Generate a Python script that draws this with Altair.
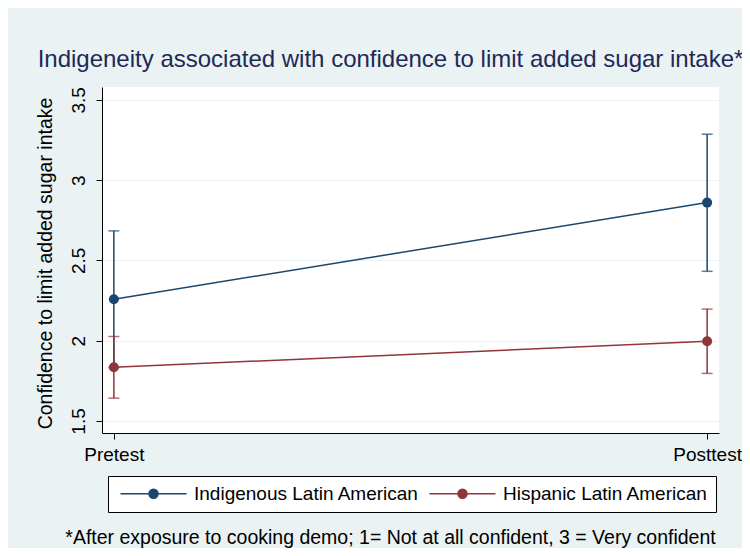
import altair as alt
import pandas as pd

# ---- data ----
series = ["Indigenous Latin American", "Hispanic Latin American"]
colors = ["#1a476f", "#90353b"]
time_labels = ["Pretest", "Posttest"]
groups = ["Indigenous Latin American", "Indigenous Latin American",
          "Hispanic Latin American", "Hispanic Latin American"]
times = [0, 1, 0, 1]
means = [2.258, 2.860, 1.834, 1.996]
lowers = [1.832, 2.432, 1.642, 1.796]
uppers = [2.684, 3.286, 2.026, 2.197]
y_ticks = [1.5, 2, 2.5, 3, 3.5]

title_text = "Indigeneity associated with confidence to limit added sugar intake*"
y_title = "Confidence to limit added sugar intake"
footnote = "*After exposure to cooking demo; 1= Not at all confident, 3 = Very confident"

df = pd.DataFrame({"group": groups, "time": times, "mean": means,
                   "lower": lowers, "upper": uppers})

FONT = "Liberation Sans"
BG = "#eaf2f3"
FS = 19

x_scale = alt.Scale(domain=[-0.02, 1.02], nice=False, zero=False)
y_scale = alt.Scale(domain=[1.425, 3.58], nice=False, zero=False)

# legend symbol: line with a dot (units of 5px for symbolSize=100)
sym_path = ("M-1,0L12.2,0M4.7,0A0.9,0.9 0 1,0 6.5,0A0.9,0.9 0 1,0 4.7,0Z")

color_enc = alt.Color(
    "group:N",
    scale=alt.Scale(domain=series, range=colors),
    legend=alt.Legend(
        orient="none", legendX=6, legendY=389, direction="horizontal",
        title=None, strokeColor="black", fillColor="white", padding=8,
        symbolType=sym_path, symbolSize=100, symbolStrokeWidth=1.5,
        symbolOpacity=1,
        labelFont=FONT, labelFontSize=FS, labelColor="black",
        labelOffset=59, columnPadding=6, labelLimit=400,
    ),
)

x_enc = alt.X(
    "time:Q", scale=x_scale,
    axis=alt.Axis(
        values=[0, 1],
        labelExpr="datum.value == 0 ? '" + time_labels[0] + "' : '" + time_labels[1] + "'",
        grid=False, domainColor="black", domainWidth=1, tickColor="black",
        tickSize=6, labelFont=FONT, labelFontSize=FS, labelColor="black",
        labelPadding=6, labelFlush=False,
        title=footnote, titleFont=FONT, titleFontSize=19.5, titleFontWeight="normal",
        titleColor="black", titleX=288, titleY=110, titleAlign="center",
        titleBaseline="alphabetic",
    ),
)

y_enc = alt.Y(
    "mean:Q", scale=y_scale,
    axis=alt.Axis(
        values=y_ticks, format="~g", labelAngle=-90,
        grid=True, gridColor=BG, gridWidth=1.2,
        domainColor="black", domainWidth=1, tickColor="black", tickSize=6,
        labelFont=FONT, labelFontSize=FS, labelColor="black", labelPadding=8,
        labelAlign="center", labelBaseline="bottom",
        title=y_title, titleFont=FONT, titleFontSize=19.5, titleFontWeight="normal",
        titleColor="black", titlePadding=14, titleY=176,
    ),
)

base = alt.Chart(df)

rules = base.mark_rule(strokeWidth=1.5).encode(
    x=x_enc, y=alt.Y("lower:Q", scale=y_scale), y2="upper:Q", color=color_enc)
caps_hi = base.mark_tick(orient="horizontal", size=11, thickness=1.5).encode(
    x="time:Q", y=alt.Y("upper:Q", scale=y_scale), color=color_enc)
caps_lo = base.mark_tick(orient="horizontal", size=11, thickness=1.5).encode(
    x="time:Q", y=alt.Y("lower:Q", scale=y_scale), color=color_enc)
lines = base.mark_line(strokeWidth=1.5).encode(
    x="time:Q", y=y_enc, color=color_enc, detail="group:N")
points = base.mark_point(filled=True, size=100, opacity=1).encode(
    x="time:Q", y="mean:Q", color=color_enc)

chart = alt.layer(rules, caps_hi, caps_lo, lines, points).properties(
    width=617, height=346,
    autosize=alt.AutoSizeParams(type="none"),
    padding={"left": 94, "top": 79, "right": 23, "bottom": 115},
    background=BG,
    title=alt.Title(title_text, font=FONT, fontSize=24, fontWeight="normal",
                    color="#1e2a55", anchor="middle", frame="group", dx=-20,
                    offset=15),
).configure_view(fill="white", stroke=None)

chart.save("out.html", embed_options={"renderer": "svg", "actions": False})
